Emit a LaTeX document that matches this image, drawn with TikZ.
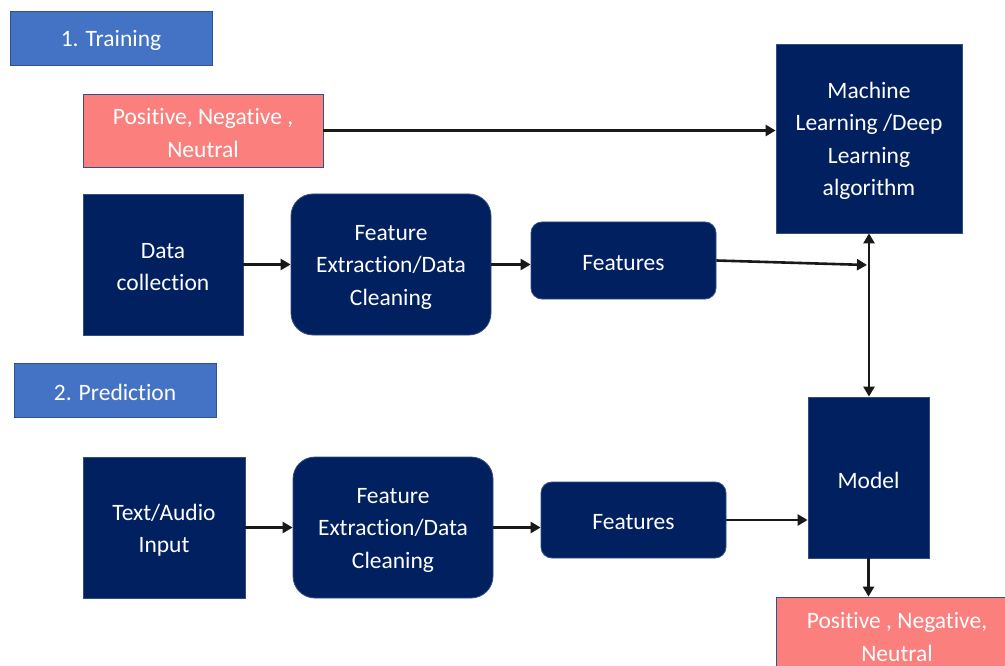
\documentclass[tikz,border=0pt]{standalone}
\usepackage{fontspec}
\setmainfont{Carlito}[Ligatures=NoCommon]
\usetikzlibrary{arrows.meta}
\definecolor{navy}{HTML}{002060}
\definecolor{hdrblue}{HTML}{4472C4}
\definecolor{hdrborder}{HTML}{2F528F}
\definecolor{pinkfill}{HTML}{FA7F7D}
\tikzset{
  txt/.style={inner sep=0pt, align=center, text=white, yshift=-2.5pt,
    font=\fontsize{23.5pt}{32.5pt}\selectfont},
  basebox/.style={inner sep=0pt, line width=0.8pt},
  navybox/.style={basebox, fill=navy, draw=navy!80!white},
  roundbox/.style={navybox, rounded corners=22pt},
  featbox/.style={navybox, rounded corners=11pt},
  hdrbox/.style={basebox, fill=hdrblue, draw=hdrborder},
  pinkbox/.style={basebox, fill=pinkfill, draw=hdrborder},
  conn/.style={line width=2.6pt, black!90, -{Triangle[length=10pt,width=11pt]}},
  dconn/.style={line width=2.6pt, black!90, {Triangle[length=10pt,width=11pt]}-{Triangle[length=10pt,width=11pt]}}
}
\begin{document}
\begin{tikzpicture}[x=1pt,y=-1pt]
\useasboundingbox (0,0) rectangle (1005,666);
\clip (0,0) rectangle (1005,666);
\fill[white] (0,0) rectangle (1005,666);

% headers
\node[hdrbox, minimum width=202pt, minimum height=54pt, label={[txt]center:{1. Training}}] (train) at (111,38) {};
\node[hdrbox, minimum width=202pt, minimum height=54pt, label={[txt]center:{2. Prediction}}] (pred) at (115,390) {};

% training row
\node[pinkbox, minimum width=240pt, minimum height=73pt, label={[txt]center:{Positive, Negative ,\\Neutral}}] (pt) at (203,130.5) {};
\node[navybox, minimum width=186pt, minimum height=189pt, label={[txt]center:{Machine\\Learning /Deep\\Learning\\algorithm}}] (ml) at (869,138.5) {};
\node[navybox, minimum width=160pt, minimum height=141pt, label={[txt]center:{Data\\collection}}] (dc) at (163,264.5) {};
\node[roundbox, minimum width=200pt, minimum height=141pt, label={[txt]center:{Feature\\Extraction/Data\\Cleaning}}] (fet) at (391,264.5) {};
\node[featbox, minimum width=185pt, minimum height=77pt, label={[txt]center:{Features}}] (ft) at (623.5,260.5) {};
\coordinate (j) at (867,265);

% prediction row
\node[navybox, minimum width=121pt, minimum height=161pt, label={[txt]center:{Model}}] (model) at (868.5,477.5) {};
\node[navybox, minimum width=162pt, minimum height=141pt, label={[txt]center:{Text/Audio\\Input}}] (ta) at (164,527.5) {};
\node[roundbox, minimum width=200pt, minimum height=141pt, label={[txt]center:{Feature\\Extraction/Data\\Cleaning}}] (feb) at (393,527.5) {};
\node[featbox, minimum width=185pt, minimum height=76pt, label={[txt]center:{Features}}] (fb) at (633.5,520) {};
\node[pinkbox, minimum width=242pt, minimum height=75pt, label={[txt]center:{Positive , Negative,\\Neutral}}] (bp) at (897,634.5) {};

% connectors
\draw[conn] (pt.east) -- (pt.east -| ml.west);
\draw[conn] (dc.east) -- (dc.east -| fet.west);
\draw[conn] (fet.east) -- (fet.east -| ft.west);
\draw[conn] (ft.east) -- (j);
\draw[dconn] (ml.south) -- (ml.south |- model.north);
\draw[conn] (ta.east) -- (ta.east -| feb.west);
\draw[conn] (feb.east) -- (feb.east -| fb.west);
\draw[conn] (fb.east) -- (fb.east -| model.west);
\draw[conn] (model.south) -- (model.south |- bp.north);
\end{tikzpicture}
\end{document}
